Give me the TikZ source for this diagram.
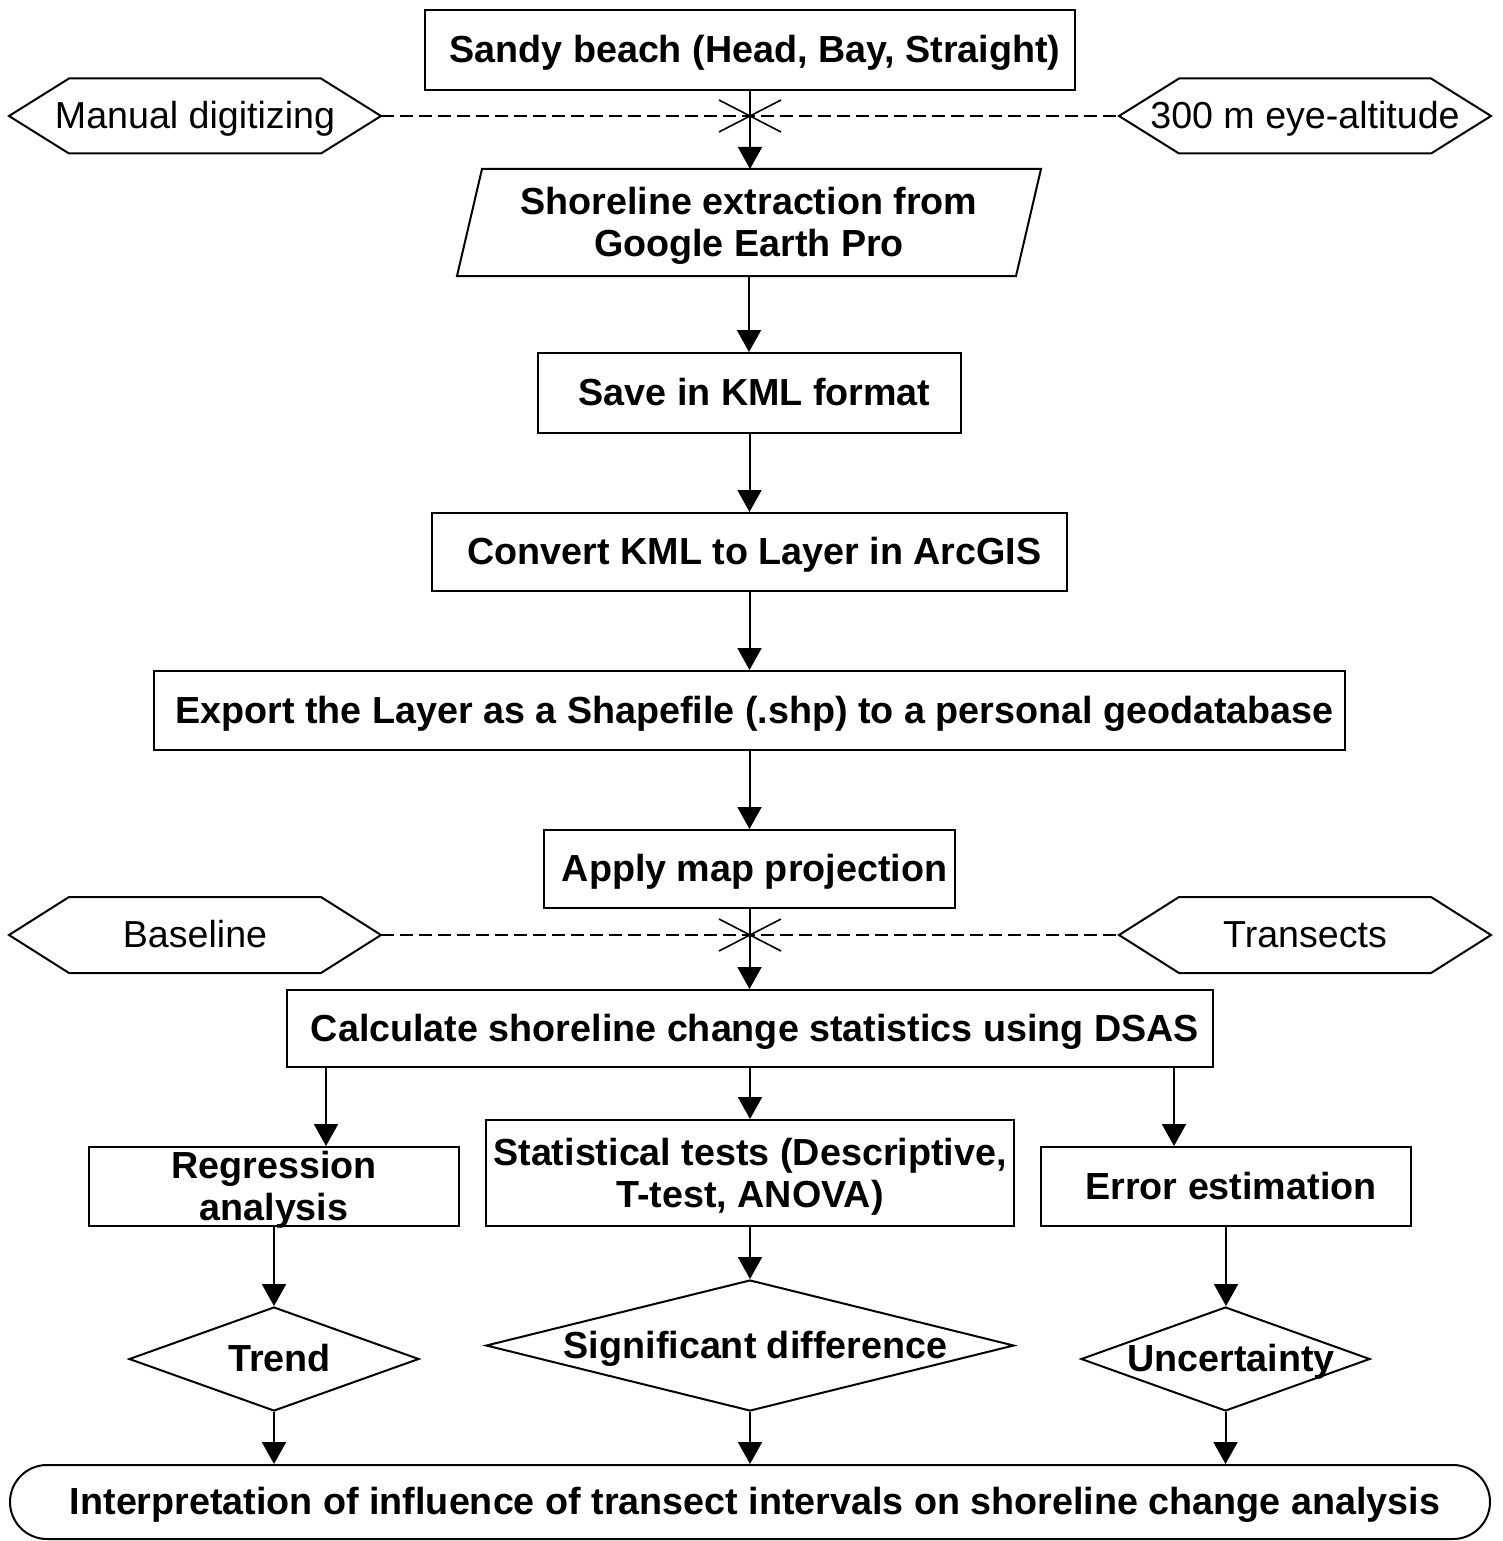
\documentclass[tikz,border=0pt]{standalone}
\usepackage{fontspec}
\setmainfont{Liberation Sans}
\usetikzlibrary{arrows.meta,shapes.geometric}
\begin{document}
\begin{tikzpicture}[x=1pt,y=-1pt,line width=2pt,
  oneline/.style={text height=30pt,text depth=5pt},
  box/.style={draw,line width=2pt,inner sep=0pt,oneline,font=\bfseries\fontsize{37.7}{42}\selectfont,execute at begin node=\kern10pt},
  lbl/.style={font=\bfseries\fontsize{37.7}{42}\selectfont,align=center,inner sep=0pt},
  mlbl/.style={lbl,yshift=-3.5pt},
  dlbl/.style={lbl,oneline,xshift=5.5pt},
  hexlbl/.style={font=\fontsize{37.6}{42}\selectfont,oneline,inner sep=0pt,minimum width=370,minimum height=73},
  dia/.style={draw,diamond,inner sep=0pt,line width=2pt},
  arr/.style={-{Triangle[length=22pt,width=24pt]},line width=2pt},
  dashline/.style={dash pattern=on 13pt off 6pt,line width=2.4pt},
  crossline/.style={line width=1.6pt}]
\useasboundingbox (0,0) rectangle (1502,1541);

% main chain
\node[box,minimum width=650,minimum height=80] (sandy) at (750,50) {Sandy beach (Head, Bay, Straight)};
\node[inner sep=0pt,minimum width=557,minimum height=105,label={[mlbl]center:{Shoreline extraction from\\Google Earth Pro}}] (shore) at (749,222.5) {};
\draw ([xshift=12.5]shore.north west) -- ([xshift=12.5]shore.north east) -- ([xshift=-12.5]shore.south east) -- ([xshift=-12.5]shore.south west) -- cycle;
\node[box,minimum width=423,minimum height=80] (kml) at (749.5,393) {Save in KML format};
\node[box,minimum width=635,minimum height=78] (conv) at (749.5,552) {Convert KML to Layer in ArcGIS};
\node[box,minimum width=1191,minimum height=79] (exp) at (749.5,710.5) {Export the Layer as a Shapefile (.shp) to a personal geodatabase};
\node[box,minimum width=411,minimum height=78] (proj) at (749.5,869) {Apply map projection};
\node[box,minimum width=926,minimum height=77] (calc) at (750,1028.5) {Calculate shoreline change statistics using DSAS};

% side hexagons
\node[hexlbl] (man) at (195,116) {Manual digitizing};
\node[hexlbl] (alt) at (1305,116) {300 m eye-altitude};
\node[hexlbl,minimum height=74] (base) at (195,935) {Baseline};
\node[hexlbl,minimum height=74] (tran) at (1305,935) {Transects};
\foreach \n in {man,alt,base,tran}
  \draw (\n.west) -- ([xshift=60]\n.north west) -- ([xshift=-60]\n.north east) -- (\n.east) -- ([xshift=-60]\n.south east) -- ([xshift=60]\n.south west) -- cycle;

\draw[dashline] (man.east) -- (alt.west);
\draw[dashline] (base.east) -- (tran.west);
\coordinate (xa) at (750,116);
\coordinate (xb) at (750,935);
\foreach \c in {xa,xb}{
  \draw[crossline] ([shift={(-31,-16)}]\c) -- ([shift={(31,16)}]\c);
  \draw[crossline] ([shift={(-31,16)}]\c) -- ([shift={(31,-16)}]\c);
}

% lower boxes
\node[box,minimum width=370,minimum height=79,label={[mlbl]center:{Regression\\analysis}}] (reg) at (274,1186.5) {};
\node[box,minimum width=528,minimum height=106,label={[mlbl]center:{Statistical tests (Descriptive,\\T-test, ANOVA)}}] (stat) at (750,1173) {};
\node[box,minimum width=370,minimum height=79] (err) at (1226,1186.5) {Error estimation};

% diamonds
\node[dia,minimum width=290,minimum height=104,label={[dlbl]center:Trend}] (trend) at (274,1359) {};
\node[dia,minimum width=528,minimum height=131,label={[dlbl]center:Significant difference}] (sig) at (750,1345.5) {};
\node[dia,minimum width=289,minimum height=104,label={[dlbl]center:Uncertainty}] (unc) at (1225.5,1359) {};

% terminal
\node[box,minimum width=1480,minimum height=74,rounded corners=37] (term) at (750,1502) {Interpretation of influence of transect intervals on shoreline change analysis};

% connectors
\foreach \a/\b in {sandy/shore,shore/kml,kml/conv,conv/exp,exp/proj,proj/calc,calc/stat,stat/sig,reg/trend,err/unc,trend/term,sig/term,unc/term}
  \draw[arr] (\a.south) -- (\a.south |- \b.north);
\draw[arr] ([xshift=40]calc.south west) -- ([xshift=40]calc.south west |- reg.north);
\draw[arr] ([xshift=-40]calc.south east) -- ([xshift=-40]calc.south east |- err.north);
\end{tikzpicture}
\end{document}
